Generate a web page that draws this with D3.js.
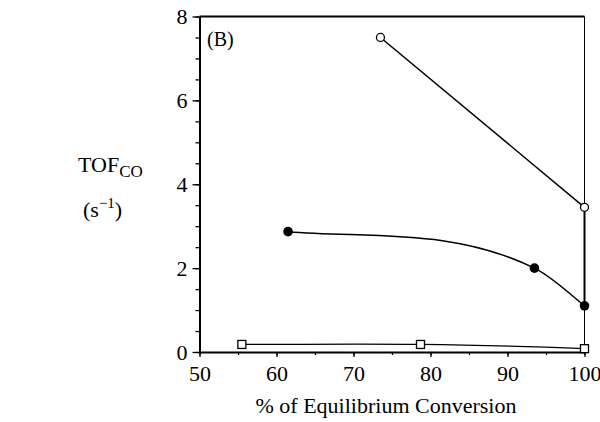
<!DOCTYPE html>
<html>
<head>
    <meta charset="utf-8">
    <title>TOF vs equilibrium conversion</title>
    <script type="text/javascript" src="https://cdn.jsdelivr.net/npm/d3@7"></script>
    <style>
        body { margin: 0; background: #fff; }
        text { font-family: "Liberation Serif", "Times New Roman", serif; fill: #000; }
    </style>
</head>
<body>
<script type="text/javascript">
    var width = 600
    var height = 422

    // data
    var openCircleX = [73.5, 100]
    var openCircleY = [7.5, 3.45]
    var filledCircleX = [61.5, 93.5, 100]
    var filledCircleY = [2.87, 2.0, 1.1]
    var filledSlopes = [-0.015, -0.09, -0.15]   // tangents of the fitted curve
    var squareX = [55.5, 78.7, 100]
    var squareY = [0.18, 0.18, 0.08]
    var squareSlopes = [0, -0.002, -0.007]
    var xTicks = [50, 60, 70, 80, 90, 100]
    var yTicks = [0, 2, 4, 6, 8]

    var svg = d3.select("body")
        .append("svg").attr("width", width)
        .attr("height", height)

    var x = d3.scaleLinear().domain([50, 100]).range([199.5, 584.5])
    var y = d3.scaleLinear().domain([0, 8]).range([352, 16.5])

    function pts(xs, ys) {
        return xs.map(function(d, i) { return [d, ys[i]] })
    }

    // hermite curve through the points, drawn as bezier segments
    function hermite(xs, ys, ms) {
        var p = d3.path()
        p.moveTo(x(xs[0]), y(ys[0]))
        for (var i = 0; i < xs.length - 1; i++) {
            var h = (xs[i + 1] - xs[i]) / 3
            p.bezierCurveTo(
                x(xs[i] + h), y(ys[i] + h * ms[i]),
                x(xs[i + 1] - h), y(ys[i + 1] - h * ms[i + 1]),
                x(xs[i + 1]), y(ys[i + 1]))
        }
        return p.toString()
    }

    // frame: thick top, thin right
    svg.append("line")
        .attr("x1", x(50)).attr("x2", x(100))
        .attr("y1", y(8)).attr("y2", y(8))
        .attr("stroke", "#000").attr("stroke-width", 2)
    svg.append("line")
        .attr("x1", x(100)).attr("x2", x(100))
        .attr("y1", y(8)).attr("y2", y(0))
        .attr("stroke", "#000").attr("stroke-width", 1)

    // minor ticks
    var xAxisMinor = d3.axisBottom(x).tickValues(d3.range(50, 101, 5)).tickSize(3).tickFormat("")
    var yAxisMinor = d3.axisLeft(y).tickValues(d3.range(0, 8.01, 0.5)).tickSize(4).tickFormat("")
    svg.append("g").attr("transform", "translate(0," + y(0) + ")").call(xAxisMinor)
        .call(function(g) { g.select(".domain").remove() })
    svg.append("g").attr("transform", "translate(" + x(50) + ",0)").call(yAxisMinor)
        .call(function(g) { g.select(".domain").remove() })

    var xAxis = d3.axisBottom(x).tickValues(xTicks).tickSize(5).tickSizeOuter(0).tickPadding(8)
    var yAxis = d3.axisLeft(y).tickValues(yTicks).tickSize(7).tickSizeOuter(0).tickPadding(5)

    var gx = svg.append("g").attr("transform", "translate(0," + y(0) + ")").call(xAxis)
    var gy = svg.append("g").attr("transform", "translate(" + x(50) + ",0)").call(yAxis)

    gx.selectAll("text").style("font-size", "22px").style("font-family", "Liberation Serif")
    gy.selectAll("text").style("font-size", "22px").style("font-family", "Liberation Serif")
        .attr("dy", "0.34em")
    gx.select(".domain").attr("stroke-width", 2)
    gy.select(".domain").attr("stroke-width", 2)
    svg.selectAll(".tick line").attr("stroke-width", 1.3)

    // connector at 100 %
    svg.append("line")
        .attr("x1", x(100)).attr("x2", x(100))
        .attr("y1", y(openCircleY[1])).attr("y2", y(filledCircleY[2]))
        .attr("stroke", "#000").attr("stroke-width", 2)

    var straight = d3.line().x(function(d) { return x(d[0]) }).y(function(d) { return y(d[1]) })

    svg.append("path").attr("d", straight(pts(openCircleX, openCircleY)))
        .attr("fill", "none").attr("stroke", "#000").attr("stroke-width", 1.5)
    svg.append("path").attr("d", hermite(filledCircleX, filledCircleY, filledSlopes))
        .attr("fill", "none").attr("stroke", "#000").attr("stroke-width", 1.5)
    svg.append("path").attr("d", hermite(squareX, squareY, squareSlopes))
        .attr("fill", "none").attr("stroke", "#000").attr("stroke-width", 1.3)

    svg.selectAll("circle.open")
        .data(pts(openCircleX, openCircleY)).enter()
        .append("circle").attr("class", "open")
        .attr("cx", function(d) { return x(d[0]) })
        .attr("cy", function(d) { return y(d[1]) })
        .attr("r", 4).attr("fill", "#fff").attr("stroke", "#000").attr("stroke-width", 1.3)

    svg.selectAll("circle.filled")
        .data(pts(filledCircleX, filledCircleY)).enter()
        .append("circle").attr("class", "filled")
        .attr("cx", function(d) { return x(d[0]) })
        .attr("cy", function(d) { return y(d[1]) })
        .attr("r", 4.8).attr("fill", "#000")

    svg.selectAll("rect.sq")
        .data(pts(squareX, squareY)).enter()
        .append("rect").attr("class", "sq")
        .attr("x", function(d) { return x(d[0]) - 4 })
        .attr("y", function(d) { return y(d[1]) - 4 })
        .attr("width", 8).attr("height", 8)
        .attr("fill", "#fff").attr("stroke", "#000").attr("stroke-width", 1.3)

    // labels
    svg.append("text").attr("x", 207).attr("y", 46)
        .style("font-size", "20px").text("(B)")

    var tof = svg.append("text").attr("x", 78).attr("y", 172).style("font-size", "22px")
    tof.append("tspan").text("TOF")
    tof.append("tspan").attr("dy", 5).style("font-size", "17px").text("CO")

    var unit = svg.append("text").attr("x", 83).attr("y", 217).style("font-size", "22px")
    unit.append("tspan").text("(s")
    unit.append("tspan").attr("dy", -9).style("font-size", "15px").text("\u22121")
    unit.append("tspan").attr("dy", 9).text(")")

    svg.append("text").attr("x", 386).attr("y", 413)
        .attr("text-anchor", "middle").style("font-size", "22px")
        .text("% of Equilibrium Conversion")
</script>
</body>
</html>
